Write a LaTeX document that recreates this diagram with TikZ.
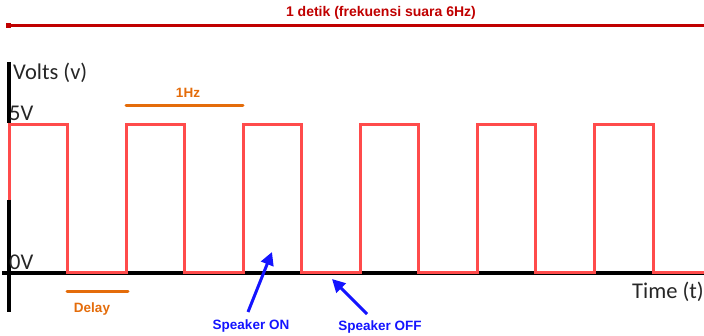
\documentclass[tikz,border=0pt]{standalone}
\usepackage{fontspec}
\setmainfont{Liberation Sans}
\newfontfamily\calib{Carlito}
\usetikzlibrary{arrows.meta}
\definecolor{darkred}{HTML}{C00000}
\definecolor{wavered}{HTML}{FF4B4B}
\definecolor{orangebar}{HTML}{E46C0A}
\definecolor{bluearrow}{HTML}{1414FF}
\tikzset{
  axislbl/.style={font=\calib\fontsize{22.5}{26}\selectfont, inner sep=0pt, text=black!85},
  boldlbl/.style={font=\bfseries\fontsize{13.5}{16}\selectfont, inner sep=0pt},
  wave/.style={wavered, line width=3pt},
  axisline/.style={black, line width=3.5pt},
  bar/.style={orangebar, line width=3pt, line cap=round},
  pointer/.style={bluearrow, line width=3pt, -{Triangle[length=13pt,width=13pt]}},
}
\begin{document}
\begin{tikzpicture}[x=1pt,y=-1pt]
\useasboundingbox (0,0) rectangle (704,336);
% top bar
\node[boldlbl, text=darkred, font=\bfseries\fontsize{14}{16}\selectfont] (title) at (381,13) {1 detik (frekuensi suara 6Hz)};
\coordinate (tl) at (8,25.5);
\coordinate (tr) at (704,25.5);
\draw[darkred, line width=3.5pt] (tl) -- (tr);
\fill[darkred] (5.5,23) rectangle (10.5,28);
% horizontal axis
\coordinate (xl) at (2,273);
\coordinate (xr) at (704,273);
\draw[axisline] (xl) -- (xr);
% square wave
\draw[wave, line join=miter]
  (9,273) -- (9,124.5) -- (67.55,124.5) -- (67.55,273) -- (126.1,273)
  -- (126.1,124.5) -- (184.65,124.5) -- (184.65,273) -- (243.2,273)
  -- (243.2,124.5) -- (301.75,124.5) -- (301.75,273) -- (360.3,273)
  -- (360.3,124.5) -- (418.85,124.5) -- (418.85,273) -- (477.4,273)
  -- (477.4,124.5) -- (535.95,124.5) -- (535.95,273) -- (594.5,273)
  -- (594.5,124.5) -- (653.05,124.5) -- (653.05,273) -- (704,273);
% redraw axis under high pulses
\foreach \a/\b in {126.1/184.65, 243.2/301.75, 360.3/418.85, 477.4/535.95, 594.5/653.05}
  \draw[black, line width=3.5pt] ({\a+1.5},273) -- ({\b-1.5},273);
\draw[black, line width=3.5pt] (2,273) -- (7.5,273);
% vertical axis
\coordinate (yt) at (9,62);
\coordinate (ym) at (9,123);
\coordinate (yb1) at (9,200);
\coordinate (yb2) at (9,312);
\draw[axisline] (yt) -- (ym);
\draw[axisline] (yb1) -- (yb2);
% axis labels
\node[axislbl, anchor=west] (volts) at (13,73) {Volts (v)};
\node[axislbl, anchor=west] (v5) at (9,113) {5V};
\node[axislbl, anchor=west] (v0) at (9,262) {0V};
\node[axislbl, anchor=east] (time) at (704,292) {Time (t)};
% 1Hz bar
\coordinate (hz1) at (126,106);
\coordinate (hz2) at (243,106);
\draw[bar] (hz1) -- (hz2);
\node[boldlbl, text=orangebar] (hz) at (188,93) {1Hz};
% delay bar
\coordinate (d1) at (67,292);
\coordinate (d2) at (128,292);
\draw[bar] (d1) -- (d2);
\node[boldlbl, text=orangebar] (delay) at (92,309) {Delay};
% speaker labels
\node[boldlbl, text=bluearrow] (son) at (251,326) {Speaker ON};
\node[boldlbl, text=bluearrow] (soff) at (380,327) {Speaker OFF};
\coordinate (sontail) at (248,312);
\coordinate (sonhead) at (272,252);
\coordinate (sofftail) at (367,314);
\coordinate (soffhead) at (332,279);
\draw[pointer] (sontail) -- (sonhead);
\draw[pointer] (sofftail) -- (soffhead);
\end{tikzpicture}
\end{document}
